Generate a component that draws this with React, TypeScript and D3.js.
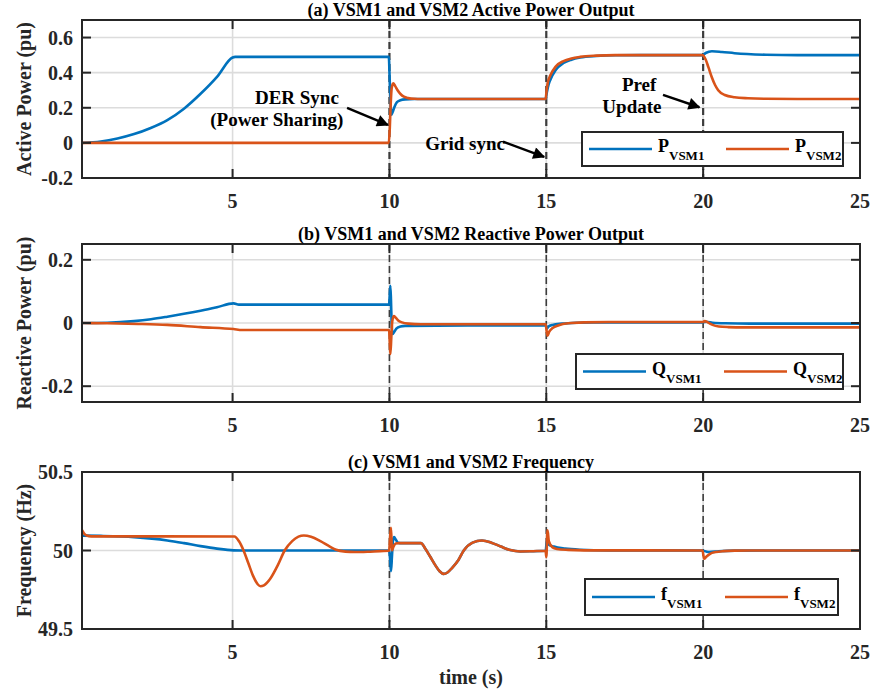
import React from "react";
import * as d3 from "d3";

type Pt = [number, number];

const W = 873;
const H = 694;
const FONT = '"Liberation Serif", "Times New Roman", serif';
const BLUE = "#0072BD";
const ORANGE = "#D95319";

// time axis
const T_DOMAIN: [number, number] = [0.2, 25];
const X_TICKS = [5, 10, 15, 20, 25];
const EVENT_TIMES = [10, 15, 20];

// (a) active power, pu
const P_TICKS = [-0.2, 0, 0.2, 0.4, 0.6];
const P_VSM1: Pt[] = [
  [0.2, 0], [0.8, 0.008], [1.33, 0.025], [1.86, 0.05], [2.39, 0.085], [2.92, 0.13],
  [3.45, 0.195], [3.98, 0.28], [4.51, 0.378], [5.0, 0.486], [5.08, 0.49], [7.5, 0.49],
  [9.98, 0.49], [10.01, 0.35], [10.04, 0.2], [10.06, 0.16], [10.1, 0.175], [10.16, 0.205],
  [10.24, 0.232], [10.35, 0.243], [10.5, 0.248], [10.8, 0.25], [12.5, 0.25], [14.98, 0.25],
  [15.02, 0.29], [15.07, 0.33], [15.13, 0.36], [15.3, 0.415], [15.55, 0.455], [15.8, 0.474],
  [16.08, 0.486], [16.6, 0.495], [17.2, 0.499], [18, 0.5], [19.98, 0.5], [20.08, 0.512],
  [20.28, 0.522], [20.6, 0.518], [21, 0.511], [21.4, 0.506], [22, 0.502], [23, 0.5], [25, 0.5],
];
const P_VSM2: Pt[] = [
  [0.2, 0], [5, 0], [9.98, 0], [10.01, 0.08], [10.04, 0.22], [10.07, 0.31], [10.12, 0.34],
  [10.18, 0.325], [10.26, 0.3], [10.36, 0.277], [10.46, 0.263], [10.6, 0.255], [10.8, 0.251],
  [11, 0.25], [12.5, 0.25], [14.98, 0.25], [15.01, 0.3], [15.05, 0.345], [15.13, 0.385],
  [15.3, 0.435], [15.55, 0.466], [15.8, 0.481], [16.08, 0.49], [16.6, 0.497], [17.2, 0.5],
  [19.98, 0.5], [20.08, 0.475], [20.17, 0.43], [20.27, 0.377], [20.38, 0.33], [20.48, 0.3],
  [20.69, 0.273], [21, 0.26], [21.43, 0.254], [22, 0.251], [23, 0.25], [25, 0.25],
];

// (b) reactive power, pu
const Q_TICKS = [-0.2, 0, 0.2];
const Q_VSM1: Pt[] = [
  [0.2, 0], [1, 0.001], [1.86, 0.006], [2.4, 0.012], [2.92, 0.02], [3.45, 0.029],
  [3.98, 0.039], [4.5, 0.05], [5.03, 0.062], [5.2, 0.058], [7.5, 0.058], [9.99, 0.058],
  [10.01, 0.09], [10.03, 0.118], [10.05, 0.07], [10.07, 0.0], [10.1, -0.035], [10.14, -0.03],
  [10.22, -0.018], [10.35, -0.011], [10.5, -0.009], [12.5, -0.008], [14.99, -0.008],
  [15.02, -0.018], [15.06, -0.012], [15.2, -0.006], [15.5, -0.002], [16, 0.001], [16.5, 0.002],
  [19.98, 0.002], [20.1, 0.004], [20.3, 0.001], [20.7, -0.001], [21.5, -0.002], [25, -0.002],
];
const Q_VSM2: Pt[] = [
  [0.2, 0], [1, -0.001], [2, -0.003], [2.92, -0.006], [3.98, -0.013], [5.03, -0.019],
  [5.3, -0.022], [7.5, -0.022], [9.99, -0.022], [10.01, -0.06], [10.03, -0.098],
  [10.06, -0.045], [10.09, 0.005], [10.14, 0.022], [10.2, 0.017], [10.28, 0.008], [10.4, 0.002],
  [10.6, -0.002], [11, -0.004], [12.5, -0.004], [14.98, -0.004], [15.01, -0.025],
  [15.04, -0.04], [15.09, -0.028], [15.2, -0.016], [15.4, -0.007], [15.7, -0.001],
  [16.2, 0.002], [17, 0.003], [19.98, 0.003], [20.05, 0.006], [20.15, 0.002], [20.3, -0.006],
  [20.5, -0.011], [20.8, -0.013], [21.3, -0.014], [25, -0.014],
];

// (c) frequency, Hz
const F_TICKS = [49.5, 50, 50.5];
const F_VSM1: Pt[] = [
  [0.2, 50.095], [0.8, 50.093], [1.86, 50.085], [2.92, 50.064], [3.45, 50.047], [3.98, 50.028],
  [4.5, 50.012], [5.03, 50.001], [5.3, 50], [7.5, 50], [9.99, 50], [10.02, 49.95],
  [10.05, 49.868], [10.08, 49.96], [10.11, 50.06], [10.15, 50.085], [10.2, 50.07],
  [10.27, 50.05], [10.4, 50.047], [11, 50.047], [11.15, 50.01], [11.3, 49.96], [11.45, 49.91],
  [11.6, 49.868], [11.73, 49.851], [11.85, 49.86], [12.0, 49.89], [12.2, 49.94], [12.37, 50.0],
  [12.65, 50.05], [12.95, 50.064], [13.25, 50.05], [13.55, 50.025], [13.85, 50.003],
  [14.17, 49.994], [14.5, 49.995], [14.98, 49.998], [15.02, 50.06], [15.06, 50.04],
  [15.24, 50.025], [15.6, 50.012], [16.08, 50.005], [17, 50.001], [19.98, 50], [20.1, 49.993],
  [20.2, 49.99], [20.5, 49.995], [21, 49.999], [22, 50], [25, 50],
];
const F_VSM2: Pt[] = [
  [0.2, 50.13], [0.26, 50.11], [0.35, 50.095], [0.5, 50.09], [2.5, 50.09], [5.06, 50.089],
  [5.2, 50.06], [5.35, 50.0], [5.5, 49.92], [5.65, 49.84], [5.8, 49.785], [5.89, 49.772],
  [6.0, 49.778], [6.2, 49.82], [6.45, 49.91], [6.66, 50.0], [6.9, 50.06], [7.1, 50.088],
  [7.27, 50.096], [7.5, 50.088], [7.8, 50.06], [8.1, 50.025], [8.3, 50.005], [8.6, 49.993],
  [8.9, 49.99], [9.3, 49.992], [9.7, 49.996], [9.99, 49.998], [10.02, 50.08], [10.05, 50.145],
  [10.08, 50.0], [10.12, 50.02], [10.2, 50.045], [10.3, 50.047], [11, 50.047], [11.15, 50.01],
  [11.3, 49.96], [11.45, 49.91], [11.6, 49.868], [11.73, 49.851], [11.85, 49.86], [12.0, 49.89],
  [12.2, 49.94], [12.37, 50.0], [12.65, 50.05], [12.95, 50.064], [13.25, 50.05],
  [13.55, 50.025], [13.85, 50.003], [14.17, 49.994], [14.5, 49.995], [14.98, 49.998],
  [15.0, 49.957], [15.04, 50.128], [15.08, 50.06], [15.2, 50.02], [15.34, 50.01], [15.7, 50.004],
  [16.2, 50.001], [19.98, 50], [20.03, 49.947], [20.1, 49.96], [20.22, 49.979], [20.4, 49.99],
  [20.64, 49.996], [21, 49.999], [21.5, 50], [25, 50],
];

// annotation text + arrows for panel (a), in data coords
const P_NOTES = [
  { t: 7.05, v: 0.221, text: "DER Sync" },
  { t: 6.41, v: 0.096, text: "(Power Sharing)" },
  { t: 12.41, v: -0.041, text: "Grid sync" },
  { t: 17.96, v: 0.295, text: "Pref" },
  { t: 17.73, v: 0.17, text: "Update" },
];
const P_ARROWS = [
  { from: [8.65, 0.199], to: [9.95, 0.102] },
  { from: [13.62, 0.007], to: [14.93, -0.079] },
  { from: [18.72, 0.273], to: [19.88, 0.203] },
];

const PANELS = [
  {
    id: "a", title: "(a) VSM1 and VSM2 Active Power Output", yLabel: "Active Power (pu)",
    top: 20, bottom: 178, yDomain: [-0.2, 0.7], yTicks: P_TICKS,
    s1: P_VSM1, s2: P_VSM2, sym: "P",
    legend: { x: 582, y: 132, w: 261, h: 34, gap: 137 },
  },
  {
    id: "b", title: "(b) VSM1 and VSM2 Reactive Power Output", yLabel: "Reactive Power (pu)",
    top: 244, bottom: 402, yDomain: [-0.25, 0.25], yTicks: Q_TICKS,
    s1: Q_VSM1, s2: Q_VSM2, sym: "Q",
    legend: { x: 576, y: 354, w: 267, h: 35, gap: 141 },
  },
  {
    id: "c", title: "(c) VSM1 and VSM2 Frequency", yLabel: "Frequency (Hz)",
    top: 472, bottom: 629, yDomain: [49.5, 50.5], yTicks: F_TICKS,
    s1: F_VSM1, s2: F_VSM2, sym: "f",
    legend: { x: 585, y: 579, w: 253, h: 36, gap: 133 },
  },
];

const fmt = (d: number) => (d === 0 ? "0" : Number.isInteger(d) ? String(d) : d.toFixed(1));

function Panel({ cfg, x }: { cfg: any; x: d3.ScaleLinear<number, number> }) {
  const [left, right] = x.range();
  const y = d3.scaleLinear().domain(cfg.yDomain).range([cfg.bottom, cfg.top]);
  const line = d3.line<Pt>().x(d => x(d[0])).y(d => y(d[1])).curve(d3.curveMonotoneX);
  const lg = cfg.legend;
  const cy = lg.y + lg.h / 2;
  const midY = (cfg.top + cfg.bottom) / 2;

  return (
    <g>
      <clipPath id={`clip-${cfg.id}`}>
        <rect x={left} y={cfg.top} width={right - left} height={cfg.bottom - cfg.top} />
      </clipPath>

      {/* grid */}
      {cfg.yTicks.map((t: number) => (
        <line key={"gy" + t} x1={left} x2={right} y1={y(t)} y2={y(t)} stroke="#dcdcdc" strokeWidth={1.6} />
      ))}
      {X_TICKS.filter(t => t < 25).map(t => (
        <line key={"gx" + t} x1={x(t)} x2={x(t)} y1={cfg.top} y2={cfg.bottom} stroke="#dcdcdc" strokeWidth={1.6} />
      ))}

      {/* event markers */}
      {EVENT_TIMES.map(t => (
        <line key={"ev" + t} x1={x(t)} x2={x(t)} y1={cfg.top} y2={cfg.bottom}
          stroke="#3c3c3c" strokeWidth={cfg.id === "a" ? 2.2 : 1.6} strokeDasharray="7 4" />
      ))}

      <g clipPath={`url(#clip-${cfg.id})`}>
        <path d={line(cfg.s1) ?? ""} fill="none" stroke={BLUE} strokeWidth={2.6} strokeLinejoin="round" />
        <path d={line(cfg.s2) ?? ""} fill="none" stroke={ORANGE} strokeWidth={2.6} strokeLinejoin="round" />
      </g>

      {/* annotations */}
      {cfg.id === "a" && (
        <g fontFamily={FONT} fontWeight="bold" fontSize={19} fill="#000">
          {P_NOTES.map(n => (
            <text key={n.text} x={x(n.t)} y={y(n.v)} textAnchor="middle">{n.text}</text>
          ))}
          {P_ARROWS.map((a, i) => (
            <line key={i} x1={x(a.from[0])} y1={y(a.from[1])} x2={x(a.to[0])} y2={y(a.to[1])}
              stroke="#000" strokeWidth={2.4} markerEnd="url(#arrowhead)" />
          ))}
        </g>
      )}

      {/* legend */}
      <rect x={lg.x} y={lg.y} width={lg.w} height={lg.h} fill="#fff" stroke="#262626" strokeWidth={2} />
      {[BLUE, ORANGE].map((c, i) => {
        const lx = lg.x + 7 + i * lg.gap;
        return (
          <g key={c}>
            <line x1={lx} x2={lx + 63} y1={cy} y2={cy} stroke={c} strokeWidth={2.6} />
            <text x={lx + 69} y={cy + 3} fontFamily={FONT} fontWeight="bold" fontSize={18} fill="#000">
              {cfg.sym}
              <tspan fontSize={13} dy={8}>{i === 0 ? "VSM1" : "VSM2"}</tspan>
            </text>
          </g>
        );
      })}

      {/* frame + ticks */}
      <rect x={left} y={cfg.top} width={right - left} height={cfg.bottom - cfg.top}
        fill="none" stroke="#262626" strokeWidth={2} />
      {X_TICKS.filter(t => t < 25).map(t => (
        <g key={"tx" + t} stroke="#262626" strokeWidth={2}>
          <line x1={x(t)} x2={x(t)} y1={cfg.bottom} y2={cfg.bottom - 9} />
          <line x1={x(t)} x2={x(t)} y1={cfg.top} y2={cfg.top + 9} />
        </g>
      ))}
      {cfg.yTicks.filter((t: number) => y(t) < cfg.bottom - 1 && y(t) > cfg.top + 1).map((t: number) => (
        <g key={"ty" + t} stroke="#262626" strokeWidth={2}>
          <line x1={left} x2={left + 9} y1={y(t)} y2={y(t)} />
          <line x1={right} x2={right - 9} y1={y(t)} y2={y(t)} />
        </g>
      ))}

      {/* tick labels */}
      <g fontFamily={FONT} fontWeight="bold" fontSize={20} fill="#262626">
        {X_TICKS.map(t => (
          <text key={"lx" + t} x={x(t)} y={cfg.bottom + 30} textAnchor="middle">{t}</text>
        ))}
        {cfg.yTicks.map((t: number) => (
          <text key={"ly" + t} x={left - 9} y={y(t)} dy="0.35em" textAnchor="end">{fmt(t)}</text>
        ))}
      </g>

      <text x={(left + right) / 2} y={cfg.top - 4} textAnchor="middle" fontFamily={FONT}
        fontWeight="bold" fontSize={18} fill="#000">{cfg.title}</text>
      <text transform={`translate(24, ${midY}) rotate(-90)`} dy="0.35em" textAnchor="middle"
        fontFamily={FONT} fontWeight="bold" fontSize={20} fill="#262626">{cfg.yLabel}</text>
    </g>
  );
}

export default function App() {
  const x = d3.scaleLinear().domain(T_DOMAIN).range([82, 860]);
  return (
    <svg width={W} height={H} viewBox={`0 0 ${W} ${H}`}
      style={{ position: "absolute", left: 0, top: 0, background: "#fff" }}>
      <defs>
        <marker id="arrowhead" viewBox="0 0 10 10" refX="9" refY="5" markerWidth="6" markerHeight="5"
          markerUnits="strokeWidth" orient="auto">
          <path d="M0,0 L10,5 L0,10 z" fill="#000" />
        </marker>
      </defs>
      <rect width={W} height={H} fill="#fff" />
      {PANELS.map(p => <Panel key={p.id} cfg={p} x={x} />)}
      <text x={471} y={684} textAnchor="middle" fontFamily={FONT} fontWeight="bold"
        fontSize={20} fill="#262626">time (s)</text>
    </svg>
  );
}
